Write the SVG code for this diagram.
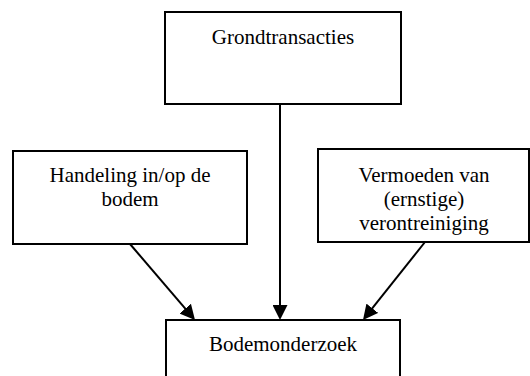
<svg xmlns="http://www.w3.org/2000/svg" width="530" height="376" viewBox="0 0 530 376">
  <style>
    .box { fill: #ffffff; stroke: #000000; stroke-width: 2; }
    .lbl { font-family: "Liberation Serif", "Times New Roman", serif; font-size: 21px; fill: #000000; text-anchor: middle; }
    .conn { stroke: #000000; stroke-width: 2; fill: none; marker-end: url(#arrow); }
  </style>
  <defs>
    <marker id="arrow" markerUnits="userSpaceOnUse" markerWidth="15" markerHeight="15" refX="5" refY="7.5" orient="auto">
      <path d="M0,0 L15,7.5 L0,15 Z" fill="#000000"/>
    </marker>
  </defs>
  <rect width="530" height="376" fill="#ffffff"/>

  <g id="node-grondtransacties">
    <rect class="box" x="165" y="12" width="236" height="92"/>
    <text class="lbl" x="283" y="44">Grondtransacties</text>
  </g>

  <g id="node-handeling">
    <rect class="box" x="13" y="151" width="234" height="93"/>
    <text class="lbl" x="130" y="182">Handeling in/op de</text>
    <text class="lbl" x="130" y="206">bodem</text>
  </g>

  <g id="node-vermoeden">
    <rect class="box" x="318" y="149" width="211" height="93"/>
    <text class="lbl" x="424" y="182">Vermoeden van</text>
    <text class="lbl" x="424" y="206">(ernstige)</text>
    <text class="lbl" x="424" y="230">verontreiniging</text>
  </g>

  <g id="node-bodemonderzoek">
    <rect class="box" x="166" y="320" width="234" height="70"/>
    <text class="lbl" x="283" y="351">Bodemonderzoek</text>
  </g>

  <g id="connectors">
    <line class="conn" x1="280" y1="104" x2="280" y2="310"/>
    <line class="conn" x1="130" y1="244" x2="188.5" y2="312.4"/>
    <line class="conn" x1="425" y1="242" x2="369.2" y2="312.2"/>
  </g>
</svg>
